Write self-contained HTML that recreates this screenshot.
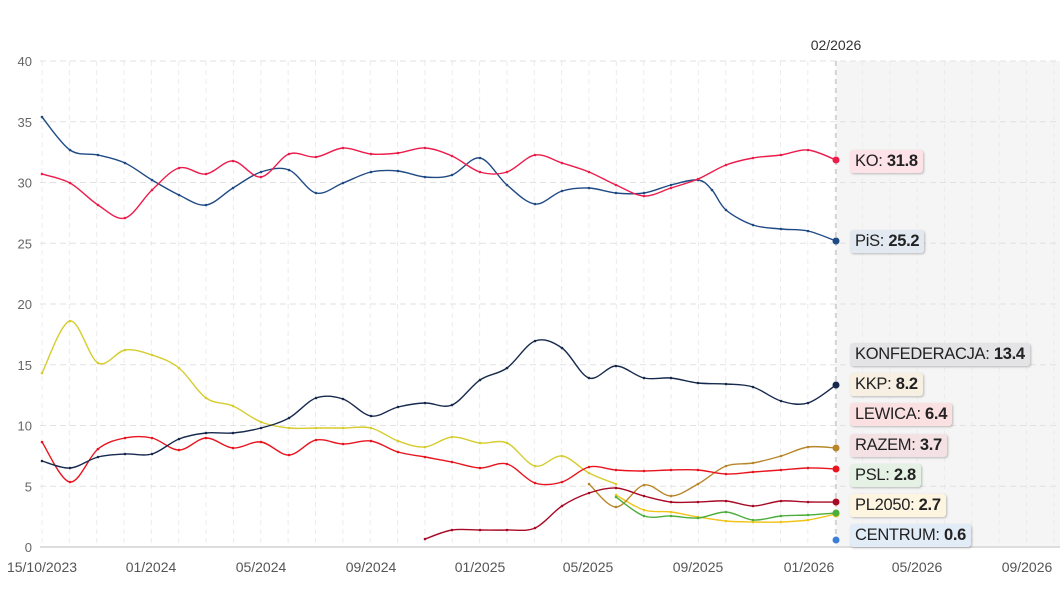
<!DOCTYPE html>
<html><head><meta charset="utf-8"><style>
body{margin:0;background:#fff;width:1060px;height:595px;overflow:hidden;font-family:"Liberation Sans",sans-serif}
.lb{position:absolute;left:850px;height:23px;line-height:23px;padding:0 5px;font-size:16.5px;color:#222;border-radius:3px;box-shadow:1px 1px 2px rgba(0,0,0,.25);letter-spacing:-0.3px;white-space:nowrap}
.lb b{font-weight:bold}
</style></head><body>
<svg id="s" width="1060" height="595" style="position:absolute;left:0;top:0" font-family="Liberation Sans, sans-serif"></svg>
<div class="lb" style="top:150px;background:#fde3e8">KO: <b>31.8</b></div>
<div class="lb" style="top:230px;background:#e3e9f1">PiS: <b>25.2</b></div>
<div class="lb" style="top:343px;background:#e4e4e7">KONFEDERACJA: <b>13.4</b></div>
<div class="lb" style="top:373px;background:#f7efe2">KKP: <b>8.2</b></div>
<div class="lb" style="top:403px;background:#fbe0e2">LEWICA: <b>6.4</b></div>
<div class="lb" style="top:434px;background:#f3e1e4">RAZEM: <b>3.7</b></div>
<div class="lb" style="top:464px;background:#e5f1e4">PSL: <b>2.8</b></div>
<div class="lb" style="top:494px;background:#fdf5df">PL2050: <b>2.7</b></div>
<div class="lb" style="top:524px;background:#e2ecf7">CENTRUM: <b>0.6</b></div>
<script>
var s=document.getElementById('s'),h='';
h+='<rect x="836" y="61" width="224" height="486" fill="#f5f5f5"/>';
for(var x=42;x<1060;x+=27.35)h+='<line x1="'+x+'" y1="61" x2="'+x+'" y2="547" stroke="#ececec" stroke-dasharray="5,4"/>';
for(var i=0;i<=8;i++){var y=547-i*60.75;h+='<line x1="40" y1="'+y+'" x2="1060" y2="'+y+'" stroke="'+(i?'#e2e2e2':'#ddd')+'" stroke-dasharray="'+(i?'6,4':'')+'" stroke-width="'+(i?1:2)+'"/>';h+='<text x="32" y="'+(y+5)+'" font-size="13" fill="#666" text-anchor="end">'+(i*5)+'</text>';}
var xl=[[42,'15/10/2023'],[151,'01/2024'],[261,'05/2024'],[371,'09/2024'],[480,'01/2025'],[588,'05/2025'],[698,'09/2025'],[809,'01/2026'],[917,'05/2026'],[1027,'09/2026']];
xl.forEach(function(a){h+='<text x="'+a[0]+'" y="572" font-size="14" fill="#555" text-anchor="middle">'+a[1]+'</text>'});
h+='<line x1="836" y1="61" x2="836" y2="547" stroke="#bbb" stroke-dasharray="5,4"/>';
h+='<text x="836" y="50" font-size="14" fill="#333" text-anchor="middle">02/2026</text>';
function P(pts,c,nb){var d='M'+pts[0][0]+','+pts[0][1];for(var i=0;i<pts.length-1;i++){var p0=pts[i-1]||pts[i],p1=pts[i],p2=pts[i+1],p3=pts[i+2]||p2;d+='C'+(p1[0]+(p2[0]-p0[0])/6)+','+(p1[1]+(p2[1]-p0[1])/6)+' '+(p2[0]-(p3[0]-p1[0])/6)+','+(p2[1]-(p3[1]-p1[1])/6)+' '+p2[0]+','+p2[1];}
h+='<path d="'+d+'" fill="none" stroke="'+c+'" stroke-width="1.4"/>';pts.forEach(function(p){h+='<circle cx="'+p[0]+'" cy="'+p[1]+'" r="1.3" fill="'+c+'"/>'});var l=pts[pts.length-1];if(!nb)h+='<circle cx="'+l[0]+'" cy="'+l[1]+'" r="3.5" fill="'+c+'"/>';}
P([[42,117],[70,150],[98,155],[125,163],[152,180],[179,195],[206,205],[233,188],[261,172],[289,170],[316,193],[343,183],[371,172],[398,171],[425,177],[452,175],[480,158],[507,185],[535,204],[562,191],[589,188],[616,193],[644,193],[671,185],[698,180],[712,190],[726,210],[753,225],[781,229],[808,231],[836,241]],'#1f4a85');
P([[42,174],[70,183],[98,205],[125,218],[152,190],[179,168],[206,174],[233,161],[261,177],[289,154],[316,157],[343,148],[371,154],[398,153],[425,148],[452,156],[480,172],[507,172],[535,155],[562,163],[589,172],[616,185],[644,196],[671,188],[698,179],[726,165],[753,158],[781,155],[808,150],[836,160]],'#ec1c4b');
P([[42,373],[70,321],[98,363],[125,350],[152,355],[179,368],[206,398],[233,406],[261,422],[289,428],[316,428],[343,428],[371,428],[398,441],[425,447],[452,437],[480,443],[507,443],[535,466],[562,456],[589,473],[616,484]],'#d6cc2e',1);
P([[616,495],[644,510],[671,512],[698,517],[726,521],[753,522],[781,522],[808,520],[836,514]],'#f0c419');
P([[589,484],[616,507],[644,485],[671,496],[698,484],[726,466],[753,463],[781,456],[808,447],[836,448]],'#b8862a');
P([[42,442],[70,482],[98,449],[125,438],[152,438],[179,450],[206,438],[233,448],[261,442],[289,455],[316,440],[343,444],[371,441],[398,452],[425,457],[452,462],[480,468],[507,464],[535,483],[562,482],[589,467],[616,470],[644,471],[671,470],[698,470],[726,474],[753,472],[781,470],[808,468],[836,469]],'#e8141e');
P([[425,539],[452,530],[480,530],[507,530],[535,528],[562,506],[589,493],[616,488],[644,496],[671,502],[698,502],[726,501],[753,506],[781,501],[808,502],[836,502]],'#a80a25');
P([[616,497],[644,516],[671,516],[698,518],[726,512],[753,520],[781,516],[808,515],[836,513]],'#4caf3c');
P([[42,461],[70,468],[98,457],[125,454],[152,454],[179,439],[206,433],[233,433],[261,428],[289,418],[316,398],[343,399],[371,416],[398,407],[425,403],[452,405],[480,380],[507,368],[535,341],[562,348],[589,378],[616,366],[644,378],[671,378],[698,383],[726,384],[753,387],[781,401],[808,403],[836,385]],'#172a4e');
h+='<circle cx="836" cy="540" r="3.5" fill="#3a7fd5"/>';
s.innerHTML=h;
</script>
</body></html>
